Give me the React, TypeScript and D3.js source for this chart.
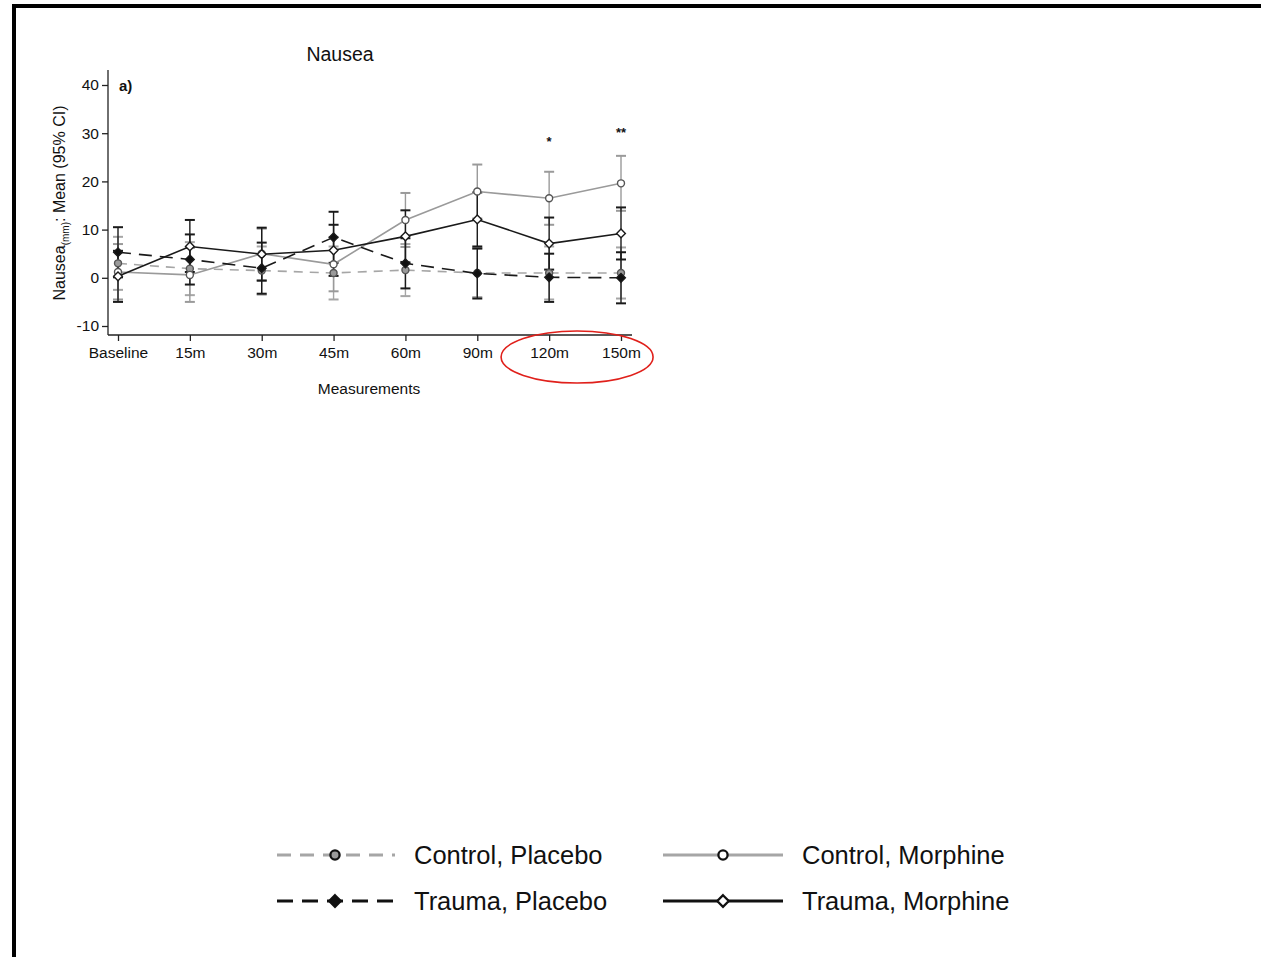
import React, { useEffect, useRef } from "react";
import * as d3 from "d3";

const categories = ["Baseline", "15m", "30m", "45m", "60m", "90m", "120m", "150m"];
const yTicks = [-10, 0, 10, 20, 30, 40];

// mean, lower and upper CI per group
const controlPlaceboMean = [3.0, 1.9, 1.5, 1.0, 1.6, 1.0, 1.0, 1.0];
const controlPlaceboLow = [-2.5, -3.6, -3.5, -4.5, -3.8, -4.0, -4.5, -4.3];
const controlPlaceboHigh = [8.5, 7.4, 6.5, 6.5, 7.0, 6.0, 6.5, 6.3];

const controlMorphineMean = [1.2, 0.6, 5.0, 2.8, 12.0, 17.9, 16.5, 19.6];
const controlMorphineLow = [-4.5, -5.0, -0.5, -2.8, 6.4, 12.3, 11.0, 13.9];
const controlMorphineHigh = [7.0, 6.2, 10.2, 8.4, 17.6, 23.5, 22.0, 25.3];

const traumaPlaceboMean = [5.3, 3.8, 2.0, 8.4, 3.0, 0.9, 0.1, 0.0];
const traumaPlaceboLow = [0.1, -1.4, -3.3, 3.1, -2.2, -4.3, -5.0, -5.3];
const traumaPlaceboHigh = [10.5, 9.0, 7.3, 13.7, 8.2, 6.1, 5.0, 5.3];

const traumaMorphineMean = [0.3, 6.5, 4.9, 5.7, 8.6, 12.1, 7.1, 9.2];
const traumaMorphineLow = [-5.0, 1.2, -0.6, 0.4, 3.2, 6.5, 1.7, 3.8];
const traumaMorphineHigh = [5.6, 12.0, 10.4, 11.0, 14.0, 17.7, 12.5, 14.6];

const significance = [
  { category: "120m", label: "*", value: 27.3 },
  { category: "150m", label: "**", value: 29.2 },
];

const FONT = "'Liberation Sans', Arial, Helvetica, sans-serif";

const series = [
  {
    name: "Control, Placebo",
    mean: controlPlaceboMean,
    low: controlPlaceboLow,
    high: controlPlaceboHigh,
    color: "#a6a6a6",
    markerStroke: "#555",
    dash: "9,7",
    marker: "circleFilled",
  },
  {
    name: "Control, Morphine",
    mean: controlMorphineMean,
    low: controlMorphineLow,
    high: controlMorphineHigh,
    color: "#9a9a9a",
    markerStroke: "#555",
    dash: null,
    marker: "circleOpen",
  },
  {
    name: "Trauma, Placebo",
    mean: traumaPlaceboMean,
    low: traumaPlaceboLow,
    high: traumaPlaceboHigh,
    color: "#1a1a1a",
    markerStroke: "#1a1a1a",
    dash: "13,8",
    marker: "diamondFilled",
  },
  {
    name: "Trauma, Morphine",
    mean: traumaMorphineMean,
    low: traumaMorphineLow,
    high: traumaMorphineHigh,
    color: "#1a1a1a",
    markerStroke: "#1a1a1a",
    dash: null,
    marker: "diamondOpen",
  },
];

const drawMarker = (g, kind, x, y, size, stroke, sw) => {
  if (kind === "circleFilled" || kind === "circleOpen") {
    g.append("circle")
      .attr("cx", x)
      .attr("cy", y)
      .attr("r", size)
      .attr("fill", kind === "circleFilled" ? "#9a9a9a" : "#fff")
      .attr("stroke", stroke)
      .attr("stroke-width", sw);
  } else {
    const s = size * 1.25;
    g.append("path")
      .attr("d", `M${x},${y - s}L${x + s},${y}L${x},${y + s}L${x - s},${y}Z`)
      .attr("fill", kind === "diamondFilled" ? "#111" : "#fff")
      .attr("stroke", stroke)
      .attr("stroke-width", sw);
  }
};

const App = () => {
  const svgRef = useRef();

  useEffect(() => {
    const svg = d3.select(svgRef.current);
    svg.selectAll("*").remove();

    // frame
    svg.append("rect").attr("x", 12).attr("y", 4).attr("width", 1261).attr("height", 4).attr("fill", "#000");
    svg.append("rect").attr("x", 12).attr("y", 4).attr("width", 4).attr("height", 960).attr("fill", "#000");

    const x = d3.scalePoint().domain(categories).range([118, 621]);
    const y = d3.scaleLinear().domain([-10, 40]).range([326, 85]);

    const axisLeft = 108;
    const axisBottom = 335;

    // title
    svg.append("text").attr("x", 340).attr("y", 61).attr("text-anchor", "middle")
      .attr("font-family", FONT).attr("font-size", 19.5).attr("fill", "#111").text("Nausea");

    // y axis
    const yAxis = svg.append("g").attr("transform", `translate(${axisLeft},0)`)
      .call(d3.axisLeft(y).tickValues(yTicks).tickFormat((d) => String(d)).tickSize(6).tickPadding(3));
    yAxis.select(".domain").attr("d", `M0,${y(43.1)}V${axisBottom}`).attr("stroke", "#222").attr("stroke-width", 1.3);
    yAxis.selectAll("line").attr("stroke", "#222").attr("stroke-width", 1.3);
    yAxis.selectAll("text").attr("font-family", FONT).attr("font-size", 15.5).attr("fill", "#111");

    // x axis
    const xAxis = svg.append("g").attr("transform", `translate(0,${axisBottom})`)
      .call(d3.axisBottom(x).tickSize(6).tickPadding(6));
    xAxis.select(".domain").attr("d", `M${axisLeft},0H632`).attr("stroke", "#222").attr("stroke-width", 1.3);
    xAxis.selectAll("line").attr("stroke", "#222").attr("stroke-width", 1.3);
    xAxis.selectAll("text").attr("font-family", FONT).attr("font-size", 15.5).attr("fill", "#111");

    // axis titles
    svg.append("text").attr("x", 369).attr("y", 394).attr("text-anchor", "middle")
      .attr("font-family", FONT).attr("font-size", 15.5).attr("fill", "#111").text("Measurements");

    const yl = svg.append("text").attr("transform", "translate(65,203) rotate(-90)")
      .attr("text-anchor", "middle").attr("font-family", FONT).attr("font-size", 16).attr("fill", "#111");
    yl.append("tspan").text("Nausea");
    yl.append("tspan").attr("font-size", 10).attr("dy", 4).text("(mm)");
    yl.append("tspan").attr("dy", -4).text(": Mean (95% CI)");

    // panel label
    svg.append("text").attr("x", 119).attr("y", 91).attr("font-family", FONT)
      .attr("font-size", 15).attr("font-weight", "bold").attr("fill", "#111").text("a)");

    const plot = svg.append("g");

    // error bars
    series.forEach((s) => {
      const g = plot.append("g");
      categories.forEach((c, i) => {
        const cx = x(c);
        g.append("line").attr("x1", cx).attr("x2", cx).attr("y1", y(s.low[i])).attr("y2", y(s.high[i]))
          .attr("stroke", s.color).attr("stroke-width", 1.4);
        [s.low[i], s.high[i]].forEach((v) => {
          g.append("line").attr("x1", cx - 5).attr("x2", cx + 5).attr("y1", y(v)).attr("y2", y(v))
            .attr("stroke", s.color).attr("stroke-width", 2);
        });
      });
    });

    const line = d3.line().x((d, i) => x(categories[i])).y((d) => y(d));

    series.forEach((s) => {
      const p = plot.append("path").datum(s.mean).attr("d", line).attr("fill", "none")
        .attr("stroke", s.color).attr("stroke-width", 1.6);
      if (s.dash) p.attr("stroke-dasharray", s.dash);
    });

    series.forEach((s) => {
      s.mean.forEach((v, i) => {
        drawMarker(plot, s.marker, x(categories[i]), y(v), 3.5, s.markerStroke, 1.4);
      });
    });

    // significance stars
    significance.forEach((d) => {
      svg.append("text").attr("x", x(d.category)).attr("y", y(d.value)).attr("text-anchor", "middle")
        .attr("font-family", FONT).attr("font-size", 13).attr("font-weight", "bold").attr("fill", "#111").text(d.label);
    });

    // red highlight
    svg.append("ellipse").attr("cx", (x("120m") + x("150m")) / 2 - 8).attr("cy", 357).attr("rx", 76).attr("ry", 26)
      .attr("fill", "none").attr("stroke", "#e0201b").attr("stroke-width", 1.6);

    // legend
    const legend = svg.append("g");
    const cols = [275, 663];
    const rows = [855, 901];
    series.forEach((s, i) => {
      const lx = cols[i % 2];
      const ly = rows[Math.floor(i / 2)];
      const l = legend.append("line").attr("x1", lx).attr("x2", lx + 120).attr("y1", ly).attr("y2", ly)
        .attr("stroke", s.color === "#1a1a1a" ? "#111" : "#a6a6a6").attr("stroke-width", 3);
      if (s.dash) l.attr("stroke-dasharray", s.marker === "circleFilled" ? "14,9" : "16,9").attr("stroke-dashoffset", -2);
      drawMarker(legend, s.marker, lx + 60, ly, 4.6, "#111", 2.3);
      legend.append("text").attr("x", lx + 139).attr("y", ly + 9).attr("font-family", FONT)
        .attr("font-size", 25.5).attr("fill", "#111").text(s.name);
    });
  }, []);

  return (
    <svg ref={svgRef} width={1261} height={957}
      style={{ position: "absolute", left: 0, top: 0, background: "#fff" }}></svg>
  );
};

export default App;
